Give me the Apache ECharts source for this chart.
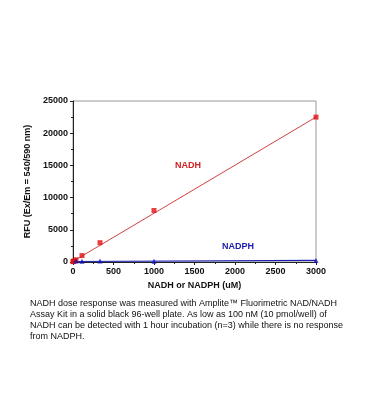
<!DOCTYPE html>
<html><head><meta charset="utf-8">
<script src="https://cdn.jsdelivr.net/npm/echarts@6/dist/echarts.min.js"></script>
<style>html,body{margin:0;padding:0;background:#fff}#c{width:369px;height:420px}</style>
</head><body><div id="c"></div>
<script>
const concentrations = [0, 4, 12, 37, 111, 333, 1000, 3000];
const nadhValues = [60, 90, 150, 350, 1000, 3000, 8000, 22500];
const nadphConc = [37, 111, 333, 1000, 3000];
const nadphValues = [150, 120, 150, 120, 250];
const nadhFitX = [0, 3000];
const nadhFitY = [100, 22500];
const nadphFitY = [80, 250];
const yTicks = [0, 5000, 10000, 15000, 20000, 25000];
const xTicks = [0, 500, 1000, 1500, 2000, 2500, 3000];
const caption = [
 'NADH dose response was measured with Amplite\u2122 Fluorimetric NAD/NADH',
 'Assay Kit in a solid black 96-well plate. As low as 100 nM (10 pmol/well) of',
 'NADH can be detected with 1 hour incubation (n=3) while there is no response',
 'from NADPH.'
];
const chart = echarts.init(document.getElementById('c'), null, {renderer:'canvas'});
const F = 'Liberation Sans, Arial, sans-serif';
chart.setOption({
  animation:false,
  grid:{left:73, top:101, width:243, height:161, show:true, borderColor:'#999', borderWidth:1},
  xAxis:{type:'value', min:0, max:3000, interval:500,
    axisLine:{show:true, onZero:false, lineStyle:{color:'#222', width:1}},
    axisTick:{show:true, length:3, lineStyle:{color:'#222'}},
    minorTick:{show:true, splitNumber:2, length:2, lineStyle:{color:'#222'}},
    splitLine:{show:false},
    axisLabel:{fontFamily:F, fontWeight:'bold', fontSize:9, color:'#111', margin:5, formatter:v=>String(v)},
    name:'NADH or NADPH (uM)', nameLocation:'middle', nameGap:19,
    nameTextStyle:{fontFamily:F, fontWeight:'bold', fontSize:9, color:'#111'}},
  yAxis:{type:'value', min:0, max:25000, interval:5000,
    axisLine:{show:true, lineStyle:{color:'#222', width:1}},
    axisTick:{show:true, length:3, lineStyle:{color:'#222'}},
    minorTick:{show:true, splitNumber:2, length:2, lineStyle:{color:'#222'}},
    splitLine:{show:false},
    axisLabel:{fontFamily:F, fontWeight:'bold', fontSize:9, color:'#111', margin:5, formatter:v=>String(v)},
    name:'RFU (Ex/Em = 540/590 nm)', nameLocation:'middle', nameGap:34, nameRotate:90,
    nameTextStyle:{fontFamily:F, fontWeight:'bold', fontSize:9, color:'#111'}},
  series:[
    {type:'line', data:nadhFitX.map((x,i)=>[x,nadhFitY[i]]), symbol:'none', lineStyle:{color:'#d04040', width:1}, z:2},
    {type:'line', data:nadhFitX.map((x,i)=>[x,nadphFitY[i]]), symbol:'none', lineStyle:{color:'#2020b0', width:1.2}, z:2},
    {type:'scatter', data:concentrations.map((x,i)=>[x,nadhValues[i]]), symbol:'rect', symbolSize:5, itemStyle:{color:'#e01010'}, z:3},
    {type:'scatter', data:nadphConc.map((x,i)=>[x,nadphValues[i]]), symbol:'triangle', symbolSize:5, itemStyle:{color:'#1010c0'}, z:4}
  ],
  graphic:[
    {type:'text', left:175, top:161, style:{text:'NADH', fill:'#d02020', font:'bold 9px '+F}},
    {type:'text', left:222, top:242, style:{text:'NADPH', fill:'#1a1ab0', font:'bold 9px '+F}},
    {type:'text', left:30, top:298, style:{text:caption.join('\n'), fill:'#111', font:'9px '+F, lineHeight:11}}
  ]
});
</script></body></html>
